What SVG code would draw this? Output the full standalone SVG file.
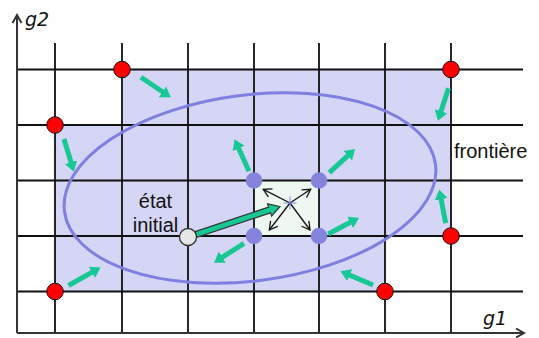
<svg xmlns="http://www.w3.org/2000/svg" width="539" height="338" viewBox="0 0 539 338">
<style>
.grid{stroke:#111;stroke-width:1.8;fill:none}
.axis{stroke:#333;stroke-width:2;fill:none}
.red{fill:#f00;stroke:#111;stroke-width:1}
.blue{fill:#8484dc}
.ga{stroke:#17c794;stroke-width:5;fill:none;marker-end:url(#gh)}
.ba{stroke:#111;stroke-width:1.3;fill:none;marker-end:url(#bh)}
.lbl{font-family:"Liberation Sans",Arial,sans-serif;font-size:20px;fill:#111}
.ax{font-family:"DejaVu Sans",Verdana,sans-serif;font-style:italic;font-size:19px;fill:#111}
</style>
<defs>
<marker id="gh" markerUnits="userSpaceOnUse" markerWidth="12" markerHeight="14" refX="4" refY="6.5" orient="auto" viewBox="0 0 12 14">
<path d="M0,0 L10,6.5 L0,13 z" fill="#17c794"/>
</marker>
<marker id="bh" markerUnits="userSpaceOnUse" markerWidth="12" markerHeight="12" refX="8" refY="4.5" orient="auto" viewBox="-1 -1 12 12">
<path d="M0,0 L8,4.5 L0,9" fill="none" stroke="#111" stroke-width="1.3"/>
</marker>
</defs>
<g id="region">
<polygon points="122,69.5 451,69.5 451,236 385,236 385,291.5 55,291.5 55,125 122,125" fill="#d5d5f5"/>
<rect x="254" y="180.5" width="65" height="55.5" fill="#eef8f1"/>
</g>
<g id="grid">
<path class="grid" d="M55,43V333M122,43V333M188,43V333M254,43V333M319,43V333M385,43V333M451,43V333"/>
<path class="grid" d="M17,69.5H523M17,125H523M17,180.5H523M17,236H523M17,291.5H523"/>
</g>
<g id="axes">
<path class="axis" d="M17,333V15M12.5,23L17,15L21.5,23"/>
<path class="axis" d="M17,333H524M516,328.5L524,333L516,337.5"/>
<text class="ax" x="25" y="26">g2</text>
<text class="ax" x="483" y="325">g1</text>
</g>
<ellipse id="ellipse" cx="250" cy="188" rx="187" ry="93" transform="rotate(-7.2 250 188)" fill="none" stroke="#7f7fe0" stroke-width="3"/>
<g id="connectors">
<line class="ga" x1="141" y1="77.3" x2="165.8" y2="94"/>
<line class="ga" x1="448.5" y1="88.3" x2="439.8" y2="115"/>
<line class="ga" x1="64" y1="139" x2="72.2" y2="166"/>
<line class="ga" x1="68.5" y1="285.5" x2="95.3" y2="270.4"/>
<line class="ga" x1="373" y1="285" x2="346" y2="273.6"/>
<line class="ga" x1="445.7" y1="223.3" x2="440.4" y2="195.4"/>
<line class="ga" x1="249" y1="171.3" x2="237" y2="144.8"/>
<line class="ga" x1="329.3" y1="172.7" x2="350.6" y2="153.1"/>
<line class="ga" x1="244" y1="243.3" x2="219" y2="259.4"/>
<line class="ga" x1="328.3" y1="234" x2="353.7" y2="220.5"/>
<polygon points="195.05,231.65 268.61,207.13 267.51,203.81 280,206.5 271.61,216.15 270.51,212.83 196.95,237.35" fill="#17c794" stroke="#333" stroke-width="1.2" stroke-linejoin="miter"/>
<line class="ba" x1="290" y1="203" x2="263.3" y2="189.3"/>
<line class="ba" x1="290" y1="203" x2="310.7" y2="189.3"/>
<line class="ba" x1="290" y1="203" x2="269.3" y2="230"/>
<line class="ba" x1="290" y1="203" x2="310" y2="230"/>
<path d="M283.5,203H296.5M290,196.5V209.5" stroke="#8080e0" stroke-width="1" fill="none"/>
</g>
<g id="boundary-nodes">
<circle id="b1" class="red" cx="122" cy="69.5" r="8.3"/>
<circle id="b2" class="red" cx="451" cy="69.5" r="8.3"/>
<circle id="b3" class="red" cx="55" cy="125" r="8.3"/>
<circle id="b4" class="red" cx="451" cy="236" r="8.3"/>
<circle id="b5" class="red" cx="55" cy="291.5" r="8.3"/>
<circle id="b6" class="red" cx="385" cy="291.5" r="8.3"/>
</g>
<g id="inner-nodes">
<circle id="n1" class="blue" cx="254" cy="180.5" r="8.3"/>
<circle id="n2" class="blue" cx="319" cy="180.5" r="8.3"/>
<circle id="n3" class="blue" cx="254" cy="236" r="8.3"/>
<circle id="n4" class="blue" cx="319" cy="236" r="8.3"/>
</g>
<g id="initial">
<circle cx="188" cy="237" r="8.5" fill="#e6e6e6" stroke="#333" stroke-width="1.3"/>
<text class="lbl" x="155.5" y="208" text-anchor="middle">état</text>
<text class="lbl" x="155.5" y="231.5" text-anchor="middle">initial</text>
</g>
<g id="frontiere">
<text class="lbl" x="454" y="158">frontière</text>
</g>
</svg>
